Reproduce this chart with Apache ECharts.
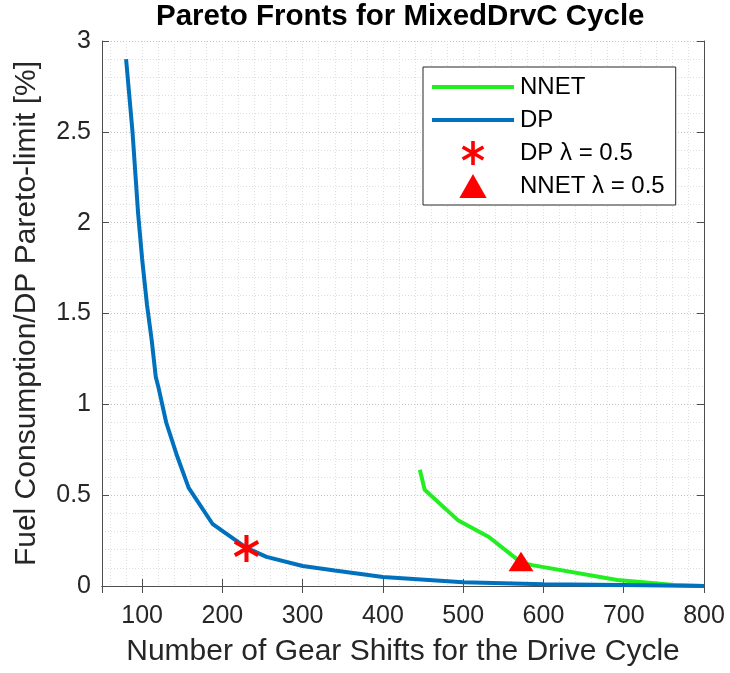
<!DOCTYPE html>
<html>
<head>
<meta charset="utf-8">
<script src="https://cdn.jsdelivr.net/npm/echarts@6/dist/echarts.min.js"></script>
<style>
  html, body { margin: 0; padding: 0; background: #fff; }
  #chart { width: 730px; height: 673px; }
</style>
</head>
<body>
<div id="chart"></div>
<script>
// DP pareto front
var dpX = [80, 88, 95, 100, 106, 112, 117, 120, 130, 144, 158, 188, 230, 255, 300, 340, 400, 500, 600, 700, 800];
var dpY = [2.9, 2.5, 2.05, 1.8, 1.55, 1.35, 1.15, 1.1, 0.9, 0.71, 0.54, 0.34, 0.21, 0.16, 0.11, 0.085, 0.05, 0.02, 0.01, 0.005, 0];
// NNET pareto front
var nnetX = [446, 452, 494, 532, 572, 586, 692, 763, 800];
var nnetY = [0.64, 0.53, 0.36, 0.27, 0.13, 0.115, 0.033, 0.005, 0];
// lambda = 0.5 points
var dpStar = [230, 0.207];
var nnetTri = [572, 0.135];

var xTicks = [100, 200, 300, 400, 500, 600, 700, 800];
var yTicks = [0, 0.5, 1, 1.5, 2, 2.5, 3];

var FONT = '"Liberation Sans", Arial, Helvetica, sans-serif';
var AXIS_COLOR = '#4d4d4d';
var TEXT_COLOR = '#262626';
var GREEN = '#22ee22';
var BLUE = '#0072bd';
var RED = '#ff0000';

// MATLAB style '*' marker (three bars)
var starPath = 'path://M-1.5,-10L1.5,-10L1.5,10L-1.5,10Z' +
  'M7.91,6.30L-9.41,-3.70L-7.91,-6.30L9.41,3.70Z' +
  'M9.41,-3.70L-7.91,6.30L-9.41,3.70L7.91,-6.30Z';
var triPath = 'path://M12.5,0L25,22L0,22Z';
var lineIcon = 'path://M0,0L82,0L82,4L0,4Z';

function pairs(xs, ys) {
  return xs.map(function (x, i) { return [x, ys[i]]; });
}

var boxAxis = {
  axisLine: { show: true, lineStyle: { color: AXIS_COLOR, width: 1 } },
  axisTick: { show: true, inside: true, length: 7, lineStyle: { color: AXIS_COLOR } },
  axisLabel: { show: false },
  splitLine: { show: false }
};

var option = {
  backgroundColor: '#fff',
  animation: false,
  title: {
    text: 'Pareto Fronts for MixedDrvC Cycle',
    left: 156,
    top: 2,
    padding: 0,
    textStyle: { fontFamily: FONT, fontSize: 29.5, fontWeight: 'bold', color: '#000' }
  },
  grid: { left: 102, right: 26, top: 41, bottom: 87, containLabel: false },
  xAxis: [
    {
      type: 'value', min: 50, max: 800, splitNumber: 8, position: 'bottom',
      name: 'Number of Gear Shifts for the Drive Cycle',
      nameLocation: 'middle', nameGap: 51,
      nameTextStyle: { fontFamily: FONT, fontSize: 30, color: TEXT_COLOR },
      axisLine: { lineStyle: { color: AXIS_COLOR, width: 1 } },
      axisTick: { inside: true, length: 7, lineStyle: { color: AXIS_COLOR } },
      axisLabel: {
        margin: 18, fontFamily: FONT, fontSize: 25, color: TEXT_COLOR,
        formatter: function (v) { return xTicks.indexOf(v) >= 0 ? String(v) : ''; }
      },
      splitLine: { show: true, lineStyle: { color: '#c4c4c4', type: [1, 2], width: 1 } }
    },
    Object.assign({ type: 'value', min: 50, max: 800, splitNumber: 8, position: 'top' }, boxAxis),
    {
      // minor grid every 20
      type: 'value', min: 50, max: 800, splitNumber: 38, position: 'bottom',
      axisLine: { show: false }, axisTick: { show: false }, axisLabel: { show: false },
      splitLine: { show: true, lineStyle: { color: '#dedede', type: [1, 2], width: 1 } }
    }
  ],
  yAxis: [
    {
      type: 'value', min: 0, max: 3, interval: 0.5, position: 'left',
      name: 'Fuel Consumption/DP Pareto-limit [%]',
      nameLocation: 'middle', nameGap: 60,
      nameTextStyle: { fontFamily: FONT, fontSize: 30, color: TEXT_COLOR },
      axisLine: { show: true, lineStyle: { color: AXIS_COLOR, width: 1 } },
      axisTick: { show: true, inside: true, length: 7, lineStyle: { color: AXIS_COLOR } },
      axisLabel: {
        margin: 11, fontFamily: FONT, fontSize: 25, color: TEXT_COLOR,
        formatter: function (v) { return yTicks.indexOf(v) >= 0 ? String(v) : ''; }
      },
      splitLine: { show: true, lineStyle: { color: '#c4c4c4', type: [1, 2], width: 1 } },
      minorTick: { show: false, splitNumber: 5 },
      minorSplitLine: { show: true, lineStyle: { color: '#dedede', type: [1, 2], width: 1 } }
    },
    Object.assign({ type: 'value', min: 0, max: 3, interval: 0.5, position: 'right' }, boxAxis)
  ],
  legend: {
    orient: 'vertical',
    left: 423,
    top: 67,
    padding: [8, 11, 7, 9],
    itemWidth: 82,
    itemHeight: 24,
    itemGap: 9,
    borderColor: '#262626',
    borderWidth: 1,
    borderRadius: 0,
    backgroundColor: '#fff',
    symbolKeepAspect: true,
    textStyle: { fontFamily: FONT, fontSize: 24, color: '#000', padding: [0, 0, 0, 1] },
    data: [
      { name: 'NNET', icon: lineIcon, itemStyle: { color: GREEN } },
      { name: 'DP', icon: lineIcon, itemStyle: { color: BLUE } },
      { name: 'DP λ = 0.5', icon: starPath },
      { name: 'NNET λ = 0.5', icon: triPath }
    ]
  },
  series: [
    {
      name: 'NNET', type: 'line', data: pairs(nnetX, nnetY),
      symbol: 'none', lineStyle: { color: GREEN, width: 4 },
      itemStyle: { color: GREEN }
    },
    {
      name: 'DP', type: 'line', data: pairs(dpX, dpY),
      symbol: 'none', lineStyle: { color: BLUE, width: 4 },
      itemStyle: { color: BLUE }
    },
    {
      name: 'DP λ = 0.5', type: 'scatter', data: [dpStar],
      symbol: starPath, symbolSize: 27, symbolKeepAspect: true,
      itemStyle: { color: RED, opacity: 1 }, z: 5
    },
    {
      name: 'NNET λ = 0.5', type: 'scatter', data: [nnetTri],
      symbol: triPath, symbolSize: [25, 22], symbolKeepAspect: true,
      itemStyle: { color: RED, opacity: 1 }, z: 5
    }
  ]
};

var myChart = echarts.init(document.getElementById('chart'));
myChart.setOption(option);
</script>
</body>
</html>
